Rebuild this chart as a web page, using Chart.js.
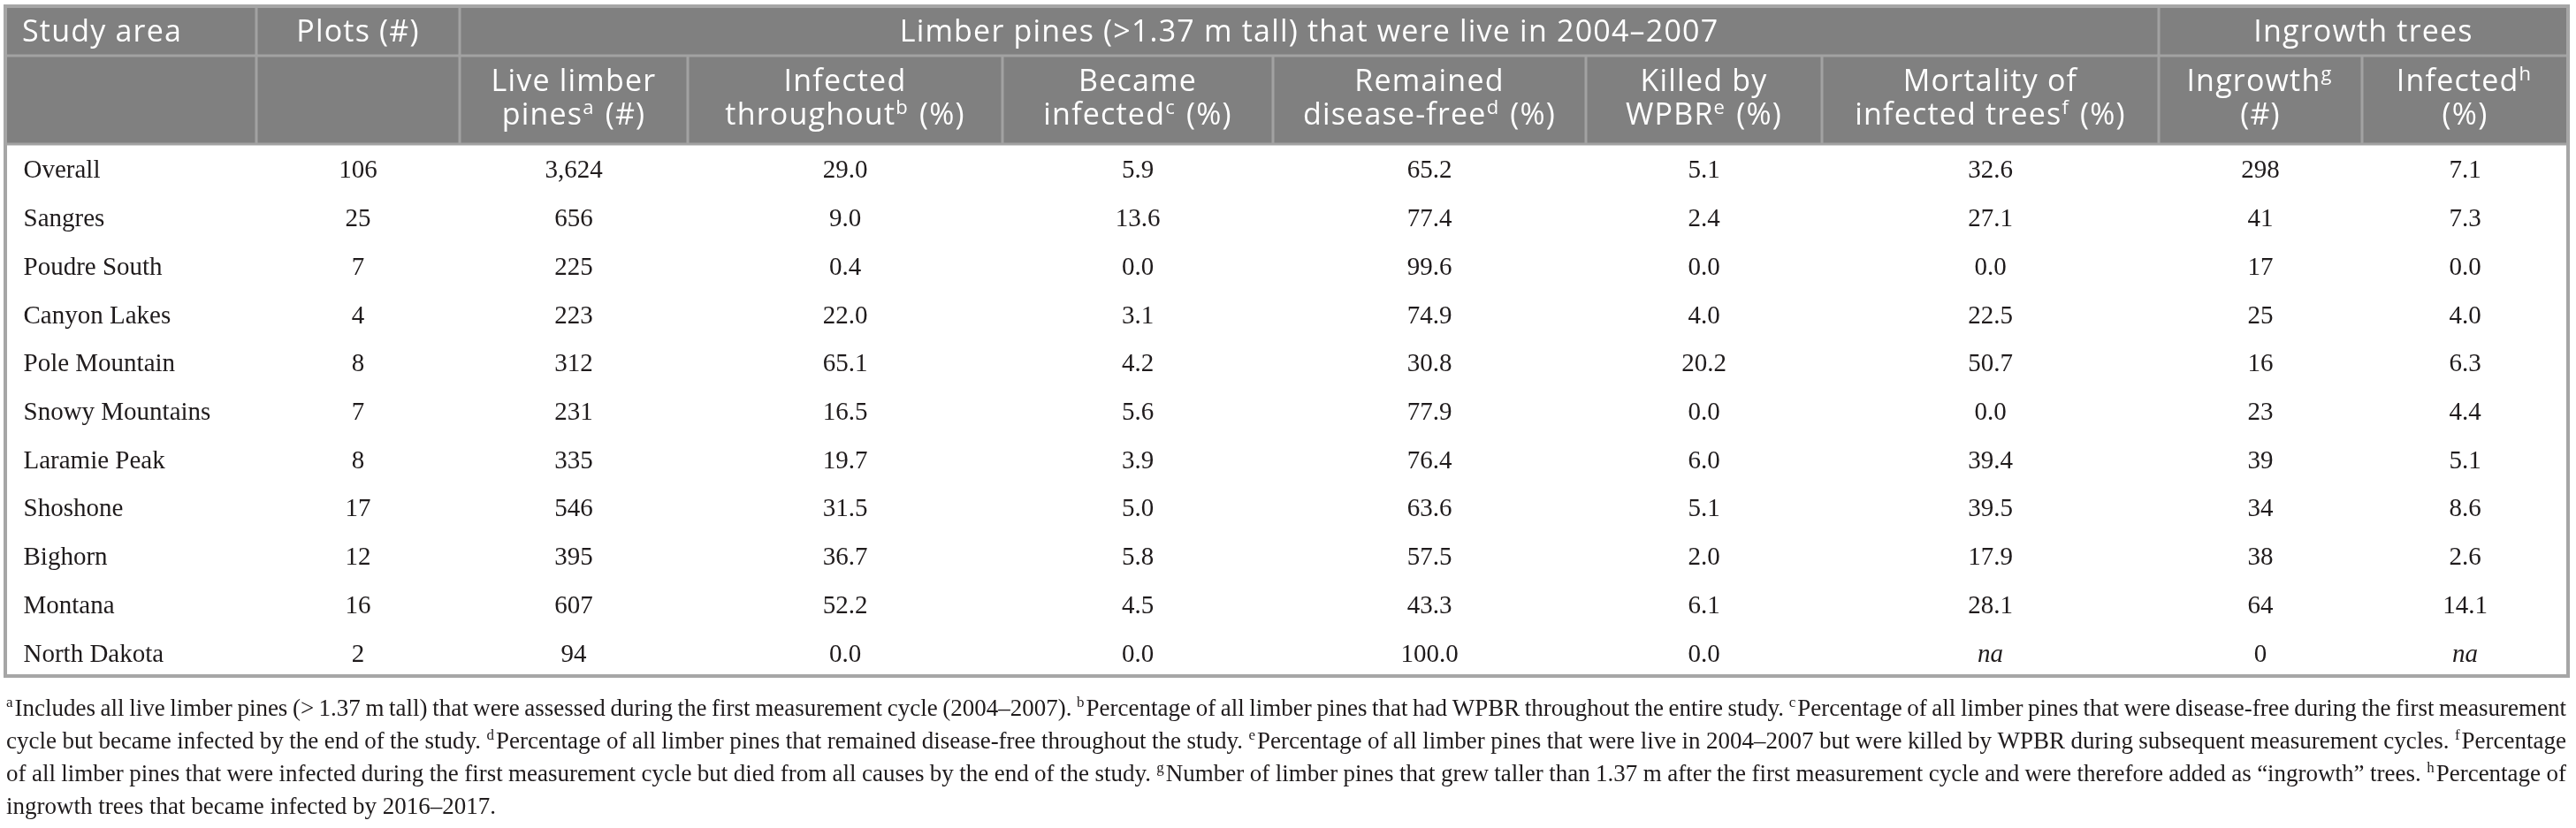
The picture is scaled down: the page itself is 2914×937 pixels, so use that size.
<!DOCTYPE html>
<html><head><meta charset="utf-8">
<script src="https://cdn.jsdelivr.net/npm/chart.js@4.4.1/dist/chart.umd.min.js"></script>
<style>html,body{margin:0;padding:0;background:#fff;}canvas{display:block;}</style>
</head><body>
<canvas id="c" width="2914" height="937"></canvas>
<script>
// ---------------- DATA ----------------
const areas = ['Overall','Sangres','Poudre South','Canyon Lakes','Pole Mountain','Snowy Mountains','Laramie Peak','Shoshone','Bighorn','Montana','North Dakota'];
const plots = [106,25,7,4,8,7,8,17,12,16,2];
const livePines = [3624,656,225,223,312,231,335,546,395,607,94];
const infectedThroughout = [29.0,9.0,0.4,22.0,65.1,16.5,19.7,31.5,36.7,52.2,0.0];
const becameInfected = [5.9,13.6,0.0,3.1,4.2,5.6,3.9,5.0,5.8,4.5,0.0];
const remainedFree = [65.2,77.4,99.6,74.9,30.8,77.9,76.4,63.6,57.5,43.3,100.0];
const killedWPBR = [5.1,2.4,0.0,4.0,20.2,0.0,6.0,5.1,2.0,6.1,0.0];
const mortalityInfected = [32.6,27.1,0.0,22.5,50.7,0.0,39.4,39.5,17.9,28.1,null];
const ingrowth = [298,41,17,25,16,23,39,34,38,64,0];
const ingrowthInfected = [7.1,7.3,0.0,4.0,6.3,4.4,5.1,8.6,2.6,14.1,null];

const groupHeaders = [
  {text:'Study area', from:0, to:1, align:'left'},
  {text:'Plots (#)', from:1, to:2},
  {text:'Limber pines (>1.37 m tall) that were live in 2004\u20132007', from:2, to:8},
  {text:'Ingrowth trees', from:8, to:10}
];
const subHeaders = [null, null,
  ['Live limber','pines{a} (#)'],
  ['Infected','throughout{b} (%)'],
  ['Became','infected{c} (%)'],
  ['Remained','disease-free{d} (%)'],
  ['Killed by','WPBR{e} (%)'],
  ['Mortality of','infected trees{f} (%)'],
  ['Ingrowth{g}','(#)'],
  ['Infected{h}','(%)']
];
const footnoteLines = [
  '{a}Includes all live limber pines (>\u20091.37 m tall) that were assessed during the first measurement cycle (2004\u20132007). {b}Percentage of all limber pines that had WPBR throughout the entire study. {c}Percentage of all limber pines that were disease-free during the first measurement',
  'cycle but became infected by the end of the study. {d}Percentage of all limber pines that remained disease-free throughout the study. {e}Percentage of all limber pines that were live in 2004\u20132007 but were killed by WPBR during subsequent measurement cycles. {f}Percentage',
  'of all limber pines that were infected during the first measurement cycle but died from all causes by the end of the study. {g}Number of limber pines that grew taller than 1.37 m after the first measurement cycle and were therefore added as \u201cingrowth\u201d trees. {h}Percentage of',
  'ingrowth trees that became infected by 2016\u20132017.'
];

// ---------------- LAYOUT (sizes / styles) ----------------
const columnValues = [areas, plots, livePines, infectedThroughout, becameInfected, remainedFree, killedWPBR, mortalityInfected, ingrowth, ingrowthInfected];
const columnKinds = ['label','count','count','pct','pct','pct','pct','pct','count','pct'];
const colWidths = [284,230,258,356,306,354,267,381,230,233];
const colEdges = colWidths.reduce((a,w)=>{a.push(a[a.length-1]+w);return a;},[0]);
const tableTotal = colEdges[colEdges.length-1];

const HEAD_FONT = '"Open Sans", sans-serif';
const BODY_FONT = '"Liberation Serif", serif';
const HEAD_BG = '#808080', HEAD_LINE = '#a2a2a2', BODY_LINE = '#b4b4b4', OUTER_LINE = '#a6a6a6';

function fmt(v, kind){
  if (v === null) return 'na';
  if (kind === 'count') return v.toLocaleString('en-US');
  if (kind === 'pct') return v.toFixed(1);
  return String(v);
}
function parseRich(s){
  const segs=[]; const re=/\{(\w)\}/g; let last=0,m;
  while((m=re.exec(s))){ if(m.index>last) segs.push({t:s.slice(last,m.index)}); segs.push({t:m[1],sup:true}); last=re.lastIndex; }
  if(last<s.length) segs.push({t:s.slice(last)});
  return segs;
}
function richWidth(ctx, segs, f, sf){
  let w=0; for(const s of segs){ ctx.font = s.sup?sf:f; w+=ctx.measureText(s.t).width + (s.sup?2:0);} return w;
}
function drawRich(ctx, segs, x, y, f, sf, rise){
  let cx=x;
  for(const s of segs){
    ctx.font = s.sup?sf:f;
    ctx.fillText(s.t, cx, s.sup? y-rise : y);
    cx += ctx.measureText(s.t).width + (s.sup?2:0);
  }
}

const tablePlugin = {
  id:'tablePlugin',
  afterDatasetsDraw(chart){
    const ctx = chart.ctx;
    ctx.save();
    ctx.fillStyle = '#1f1b1c';
    ctx.textBaseline = 'alphabetic';
    chart.data.datasets.forEach((ds, i) => {
      const meta = chart.getDatasetMeta(i);
      meta.data.forEach((el, j) => {
        const left = Math.min(el.x, el.base), right = Math.max(el.x, el.base);
        const v = columnValues[i][j];
        const txt = fmt(v, columnKinds[i]);
        ctx.font = (v === null ? 'italic ' : '') + '29px ' + BODY_FONT;
        const y = el.y + 11;
        if (columnKinds[i] === 'label') { ctx.textAlign='left'; ctx.fillText(txt, left + 19, y); }
        else { ctx.textAlign='center'; ctx.fillText(txt, (left+right)/2, y); }
      });
    });
    ctx.restore();
  },
  afterDraw(chart){
    const ctx = chart.ctx, xs = chart.scales.x, area = chart.chartArea;
    const X = k => xs.getPixelForValue(colEdges[k]);
    const top = 7, mid = 63, bot = area.top;
    ctx.save();
    ctx.fillStyle = HEAD_BG;
    ctx.fillRect(X(0), top, X(colEdges.length-1)-X(0), bot-top);
    ctx.strokeStyle = HEAD_LINE; ctx.lineWidth = 3;
    ctx.beginPath(); ctx.moveTo(X(0), mid); ctx.lineTo(X(colEdges.length-1), mid); ctx.stroke();
    groupHeaders.forEach(g => { if (g.from>0){ ctx.beginPath(); ctx.moveTo(X(g.from), top); ctx.lineTo(X(g.from), bot); ctx.stroke(); } });
    subHeaders.forEach((s,k) => {
      if (k>0 && !groupHeaders.some(g=>g.from===k)) { ctx.beginPath(); ctx.moveTo(X(k), mid); ctx.lineTo(X(k), bot); ctx.stroke(); }
    });
    ctx.beginPath(); ctx.moveTo(X(0), bot); ctx.lineTo(X(colEdges.length-1), bot); ctx.stroke();
    // header text
    const hf = '34px ' + HEAD_FONT, hsf = '22px ' + HEAD_FONT;
    ctx.fillStyle = '#ffffff'; ctx.textAlign='left'; ctx.textBaseline='alphabetic';
    if ('letterSpacing' in ctx) ctx.letterSpacing = '1.2px';
    groupHeaders.forEach(g => {
      const segs = parseRich(g.text);
      const w = richWidth(ctx, segs, hf, hsf);
      const x = g.align==='left' ? X(g.from)+19 : (X(g.from)+X(g.to))/2 - w/2;
      drawRich(ctx, segs, x, 47, hf, hsf, 12);
    });
    subHeaders.forEach((lines,k) => {
      if (!lines) return;
      lines.forEach((ln, li) => {
        const segs = parseRich(ln);
        const w = richWidth(ctx, segs, hf, hsf);
        drawRich(ctx, segs, (X(k)+X(k+1))/2 - w/2, li===0 ? 103 : 141, hf, hsf, 12);
      });
    });
    if ('letterSpacing' in ctx) ctx.letterSpacing = '0px';
    // outer border
    ctx.strokeStyle = OUTER_LINE; ctx.lineWidth = 4;
    ctx.strokeRect(X(0), top, X(colEdges.length-1)-X(0), area.bottom-top);
    // footnotes
    const ff = '27px ' + BODY_FONT, fsf = '17px ' + BODY_FONT;
    ctx.fillStyle = '#1f1b1c';
    const x0 = X(0)+1, x1 = X(colEdges.length-1)-2;
    footnoteLines.forEach((line, li) => {
      const y = 810 + li*37;
      const words = line.split(' ').map(parseRich);
      const ws = words.map(w => richWidth(ctx, w, ff, fsf));
      ctx.font = ff;
      const sp = ctx.measureText(' ').width;
      const total = ws.reduce((a,b)=>a+b,0);
      const justify = li < footnoteLines.length-1;
      let gap = sp, sx = 1;
      if (justify) {
        gap = (x1-x0-total)/(words.length-1);
        if (gap < sp*0.6) { gap = sp*0.6; sx = (x1-x0)/(total + gap*(words.length-1)); }
      }
      ctx.save(); ctx.translate(x0, 0); ctx.scale(sx, 1);
      let cx = 0;
      words.forEach((w, wi) => { drawRich(ctx, w, cx, y, ff, fsf, 10); cx += ws[wi] + gap; });
      ctx.restore();
    });
    ctx.restore();
  }
};

new Chart(document.getElementById('c'), {
  type: 'bar',
  data: {
    labels: areas,
    datasets: columnValues.map((col, i) => ({
      label: columnKinds[i] + i,
      data: areas.map(() => colWidths[i]),
      backgroundColor: '#ffffff',
      borderWidth: 0,
      barPercentage: 1,
      categoryPercentage: 1,
      stack: 'table'
    }))
  },
  options: {
    indexAxis: 'y',
    responsive: false,
    animation: false,
    devicePixelRatio: 1,
    events: [],
    layout: { padding: { left: 6, right: 9, top: 163, bottom: 172 } },
    plugins: { legend: { display: false }, tooltip: { enabled: false } },
    scales: {
      x: {
        type: 'linear', stacked: true, min: 0, max: tableTotal, z: 1,
        afterBuildTicks: s => { s.ticks = colEdges.map(v => ({ value: v })); },
        ticks: { display: false },
        grid: { color: BODY_LINE, lineWidth: 3, drawTicks: false },
        border: { display: false }
      },
      y: {
        stacked: true, z: 1,
        ticks: { display: false },
        grid: { offset: true, color: BODY_LINE, lineWidth: 3, drawTicks: false },
        border: { display: false }
      }
    }
  },
  plugins: [tablePlugin]
});
</script>
</body></html>
